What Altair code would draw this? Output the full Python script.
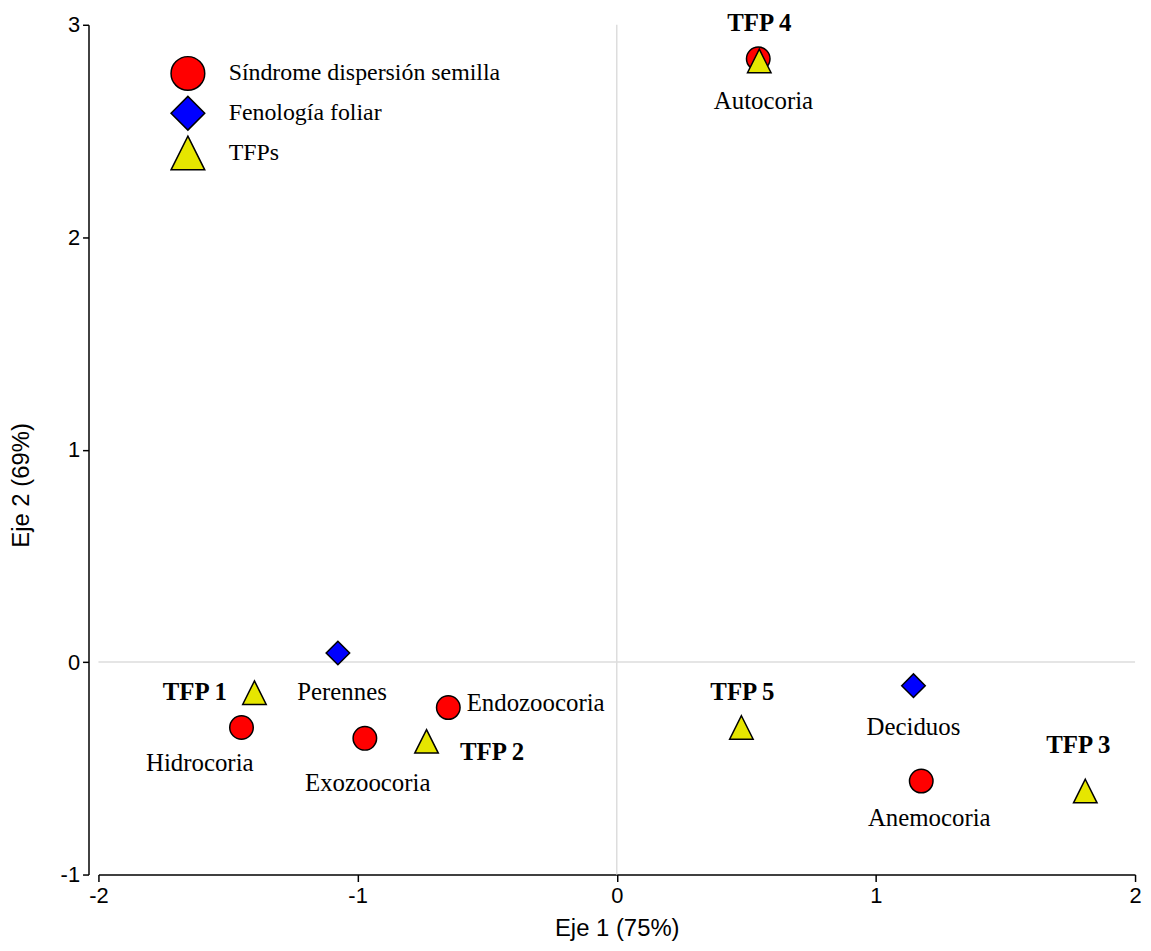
import altair as alt
import pandas as pd

names = ["Autocoria", "Hidrocoria", "Exozoocoria", "Endozoocoria", "Anemocoria",
         "Perennes", "Deciduos",
         "TFP 1", "TFP 2", "TFP 3", "TFP 4", "TFP 5"]
groups = (["Síndrome dispersión semilla"] * 5 + ["Fenología foliar"] * 2 + ["TFPs"] * 5)
x_vals = [0.546, -1.448, -0.972, -0.650, 1.175, -1.076, 1.145, -1.398, -0.734, 1.808, 0.550, 0.481]
y_vals = [2.840, -0.308, -0.359, -0.214, -0.560, 0.043, -0.111, -0.144, -0.373, -0.607, 2.830, -0.308]
label_x = [0.566, -1.609, -0.961, -0.313, 1.206, -1.060, 1.145, -1.628, -0.481, 1.781, 0.550, 0.485]
label_y = [2.640, -0.476, -0.570, -0.191, -0.733, -0.139, -0.308, -0.139, -0.425, -0.392, 3.006, -0.139]

group_order = ["Síndrome dispersión semilla", "Fenología foliar", "TFPs"]
group_colors = ["#FF0000", "#0000FF", "#E6E600"]
group_strokes = ["black", "black", "black"]
group_shapes = ["circle", "diamond", "M0,-1L1,1L-1,1Z"]

x_ticks = [-2, -1, 0, 1, 2]
y_ticks = [-1, 0, 1, 2, 3]

df = pd.DataFrame({"name": names, "group": groups, "x": x_vals, "y": y_vals,
                   "lx": label_x, "ly": label_y})

W, H = 1043, 855
sans = "Liberation Sans"
serif = "Liberation Serif"

xscale = alt.Scale(domain=[-2, 2], nice=False, zero=False)
yscale = alt.Scale(domain=[-1, 3], nice=False, zero=False)

x_axis = alt.Axis(values=x_ticks, labelExpr="'' + datum.value", title="Eje 1 (75%)",
                  grid=False, domainColor="black", domainWidth=1.5, tickColor="black",
                  tickWidth=1.5, tickSize=7, labelFont=sans, labelFontSize=22,
                  labelColor="black", labelPadding=4, labelFlush=False,
                  titleFont=sans, titleFontSize=24,
                  titleFontWeight="normal", titleColor="black",
                  titleX=W / 2, titleY=54, titleBaseline="middle", titleAlign="center")
y_axis = alt.Axis(values=y_ticks, labelExpr="'' + datum.value", title="Eje 2 (69%)",
                  grid=False, offset=10, domainColor="black", domainWidth=1.5,
                  tickColor="black", tickWidth=1.5, tickSize=6, labelFont=sans,
                  labelFontSize=22, labelColor="black", labelPadding=3, labelFlush=False,
                  titleFont=sans, titleFontSize=24, titleFontWeight="normal",
                  titleColor="black", titleAngle=-90, titleX=-67, titleY=463,
                  titleBaseline="middle", titleAlign="center")

leg = alt.Legend(title=None, symbolStrokeColor="black", symbolStrokeWidth=1.5,
                 symbolOpacity=1)

base = alt.Chart(df)

hrule = alt.Chart(pd.DataFrame({"y": [0]})).mark_rule(color="#dddddd", strokeWidth=1.5).encode(
    y=alt.Y("y:Q", scale=yscale, axis=y_axis))
vrule = alt.Chart(pd.DataFrame({"x": [0]})).mark_rule(color="#dddddd", strokeWidth=1.5).encode(
    x=alt.X("x:Q", scale=xscale, axis=x_axis))

points = base.mark_point(filled=True, size=560, strokeWidth=1.5, opacity=1).encode(
    x=alt.X("x:Q", scale=xscale, axis=x_axis),
    y=alt.Y("y:Q", scale=yscale, axis=y_axis),
    fill=alt.Fill("group:N", scale=alt.Scale(domain=group_order, range=group_colors),
                  legend=leg),
    stroke=alt.Stroke("group:N", scale=alt.Scale(domain=group_order, range=group_strokes),
                      legend=leg),
    shape=alt.Shape("group:N", scale=alt.Scale(domain=group_order, range=group_shapes),
                    legend=leg),
)

labels_norm = base.transform_filter(alt.datum.group != "TFPs").mark_text(
    font=serif, fontSize=25, color="black", align="center", baseline="middle").encode(
    x=alt.X("lx:Q", scale=xscale, axis=x_axis),
    y=alt.Y("ly:Q", scale=yscale, axis=y_axis),
    text="name:N")
labels_bold = base.transform_filter(alt.datum.group == "TFPs").mark_text(
    font=serif, fontSize=25, fontWeight="bold", color="black", align="center",
    baseline="middle").encode(
    x=alt.X("lx:Q", scale=xscale, axis=x_axis),
    y=alt.Y("ly:Q", scale=yscale, axis=y_axis),
    text="name:N")

chart = alt.layer(hrule, vrule, points, labels_norm, labels_bold).properties(
    width=W, height=H,
    autosize=alt.AutoSizeParams(type="none"),
    padding={"left": 91, "top": 14, "right": 8, "bottom": 66},
).configure_view(stroke=None).configure_legend(
    orient="none", legendX=72, legendY=31, padding=0,
    symbolSize=1150, symbolStrokeColor="black", symbolStrokeWidth=1.5,
    symbolOpacity=1,
    labelFont=serif, labelFontSize=24, labelColor="black", labelOffset=23,
    rowPadding=0, labelLimit=0,
)

chart.save("out.html", embed_options={"renderer": "svg", "actions": False})
